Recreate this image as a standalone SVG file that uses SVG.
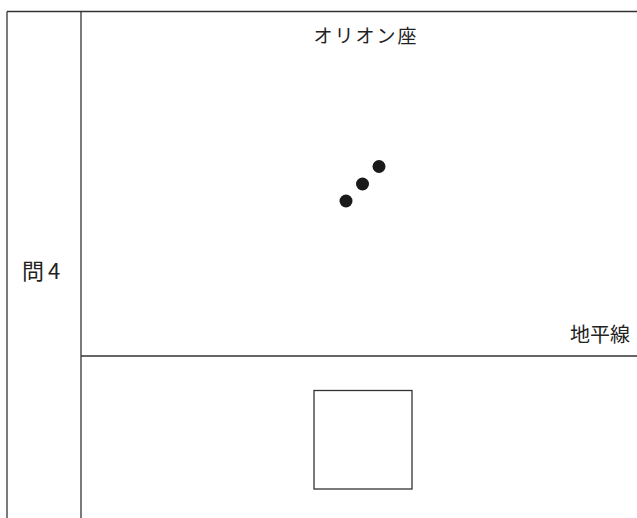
<svg xmlns="http://www.w3.org/2000/svg" width="637" height="518" viewBox="0 0 637 518">
<style>
.ln{stroke:#333;stroke-width:1.3;fill:none}
.t{font-family:"Noto Sans CJK JP","Noto Sans CJK SC",sans-serif;fill:#222}
.dot{fill:#1a1a1a}
</style>
<rect width="637" height="518" fill="#fff"/>
<g id="frame">
<line class="ln" x1="7" y1="11.5" x2="637" y2="11.5"/>
<line class="ln" x1="7" y1="11.5" x2="7" y2="518"/>
<line class="ln" x1="81" y1="11.5" x2="81" y2="518"/>
<line class="ln" x1="81" y1="356" x2="637" y2="356"/>
</g>
<g id="label-q4"><text class="t" x="22" y="279" font-size="22" letter-spacing="4">問4</text></g>
<g id="label-orion"><text class="t" x="366" y="43" font-size="19" text-anchor="middle" letter-spacing="2">オリオン座</text></g>
<g id="label-horizon"><text class="t" x="630" y="342" font-size="20" text-anchor="end">地平線</text></g>
<g id="stars">
<circle class="dot" cx="346" cy="201" r="6.5"/>
<circle class="dot" cx="362.5" cy="184" r="6.5"/>
<circle class="dot" cx="379" cy="166.5" r="6.5"/>
</g>
<g id="box"><rect class="ln" x="314" y="390.5" width="98" height="98.5"/></g>
<g id="connectors"></g>
</svg>
